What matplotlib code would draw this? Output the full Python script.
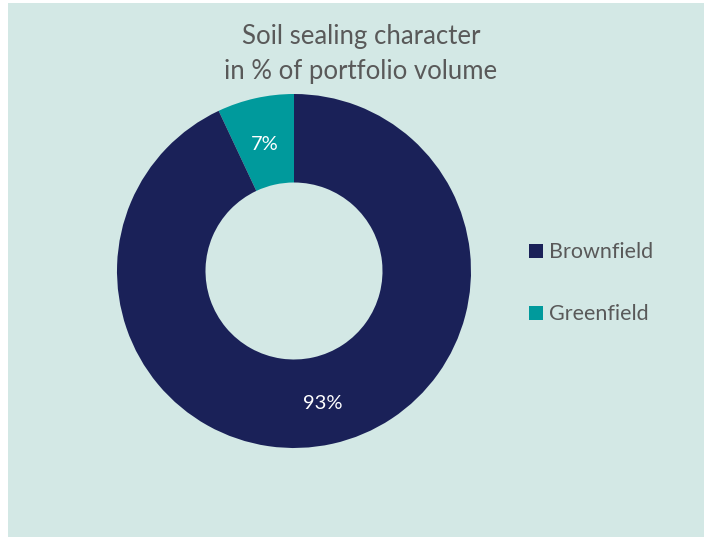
import matplotlib
matplotlib.use("Agg")
import matplotlib.pyplot as plt
from matplotlib.patches import Rectangle

categories = ["Brownfield", "Greenfield"]
shares = [93, 7]
colors = ["#1a2158", "#009a9c"]

title = "Soil sealing character\nin % of portfolio volume"

plt.rcParams["font.family"] = ["Lato", "DejaVu Sans"]

W, H = 704, 537
fig = plt.figure(figsize=(W / 100, H / 100), dpi=100, facecolor="white")

# panel background
fig.patches.append(Rectangle((8 / W, 0), 1 - 8 / W, 1 - 3 / H, transform=fig.transFigure,
                             facecolor="#d3e8e5", edgecolor="none", zorder=-5))

cx, cy, r = 294, H - 271, 177
ax = fig.add_axes([(cx - r) / W, (cy - r) / H, 2 * r / W, 2 * r / H], zorder=2)
ax.set_facecolor("none")

# Greenfield first, counter-clockwise from 12 o'clock
vals = shares[::-1]
cols = colors[::-1]
wedges, texts = ax.pie(vals, colors=cols, startangle=90, counterclock=True,
                       radius=1.0, wedgeprops=dict(width=0.5, linewidth=0),
                       labels=[f"{v}%" for v in vals], labeldistance=0.75,
                       textprops=dict(color="white", fontsize=14.5, ha="center", va="center"))
for t in texts:
    x, y = t.get_position()
    t.set_position((x, y - 0.018))
ax.set_xlim(-1, 1)
ax.set_ylim(-1, 1)
ax.set_aspect("equal")
ax.axis("off")

fig.text(361 / W, 1 - 54 / H, title, ha="center", va="center", fontsize=18.5,
         color="#595959", linespacing=1.5, zorder=3)

# legend
for name, col, ly in zip(categories, colors, [251, 313]):
    fig.patches.append(Rectangle((529 / W, 1 - (ly + 7) / H), 14 / W, 14 / H,
                                 transform=fig.transFigure, facecolor=col, edgecolor="none",
                                 zorder=3))
    fig.text(549 / W, 1 - (ly + 1.5) / H, name, ha="left", va="center", fontsize=15.5,
             color="#595959", zorder=3)

fig.savefig("out.png", dpi=100, facecolor="white")
